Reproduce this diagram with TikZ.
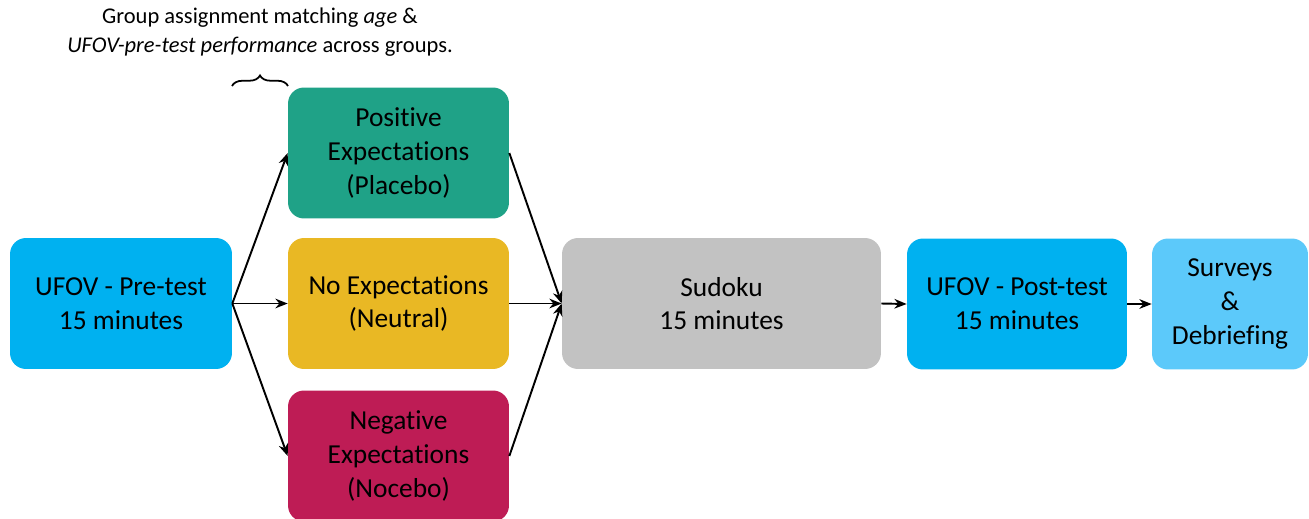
\documentclass[tikz,border=0pt]{standalone}
\usepackage{fontspec}
\setmainfont{Carlito}[Ligatures={NoCommon}]
\usetikzlibrary{decorations.pathreplacing,arrows.meta}
\definecolor{tealbox}{HTML}{1FA287}
\definecolor{yellowbox}{HTML}{E9B824}
\definecolor{redbox}{HTML}{BE1C55}
\definecolor{bluebox}{HTML}{00B1F0}
\definecolor{greybox}{HTML}{C2C2C2}
\definecolor{lightbox}{HTML}{5CC9FA}
\tikzset{
	stage/.style={rounded corners=0.32cm, align=center, inner sep=2pt,
		minimum height=2.62cm, font=\fontsize{15.6}{19.2}\selectfont},
	flow/.style={-{Stealth[length=7pt,width=5.5pt]}, line width=1.1pt}
}
\begin{document}
\begin{tikzpicture}[x=0.02cm,y=-0.02cm]
		\useasboundingbox (0,0) rectangle (1309,518);

		\node[stage, fill=bluebox, minimum width=4.44cm] (pre) at (121,303.5) {UFOV - Pre-test\\15 minutes};

		\node[stage, fill=tealbox, minimum width=4.42cm] (pos) at (398.5,153) {Positive\\Expectations\\(Placebo)};
		\node[stage, fill=yellowbox, minimum width=4.42cm] (neu) at (398.5,303.5) {No Expectations\\(Neutral)};
		\node[stage, fill=redbox, minimum width=4.42cm] (neg) at (398.5,456) {Negative\\Expectations\\(Nocebo)};

		\node[stage, fill=greybox, minimum width=6.38cm] (sud) at (721.5,303.5) {Sudoku\\15 minutes};
		\node[stage, fill=bluebox, minimum width=4.4cm] (post) at (1017,304) {UFOV - Post-test\\15 minutes};
		\node[stage, fill=lightbox, minimum width=3.12cm] (surv) at (1230,304) {Surveys\\\&\\Debriefing};

		% group assignment note
		\node[align=center, font=\fontsize{12.8}{16.8}\selectfont] (note) at (260,32) {Group assignment matching \textit{age} \&\\\textit{UFOV-pre-test performance} across groups.};
		\coordinate (bl) at (232,86);
		\coordinate (br) at (288,86);
		\draw[decorate, decoration={brace, amplitude=6pt}, line width=1pt] (bl) -- (br);

		\draw[flow] (pre.east) -- (pos.west);
		\draw[flow] (pre.east) -- (neu.west);
		\draw[flow] (pre.east) -- (neg.west);

		\draw[flow] (pos.east) -- (sud.west);
		\draw[flow] (neu.east) -- (sud.west);
		\draw[flow] (neg.east) -- (sud.west);

		\draw[flow] (sud.east) -- (post.west);
		\draw[flow] (post.east) -- (surv.west);
	\end{tikzpicture}
\end{document}
